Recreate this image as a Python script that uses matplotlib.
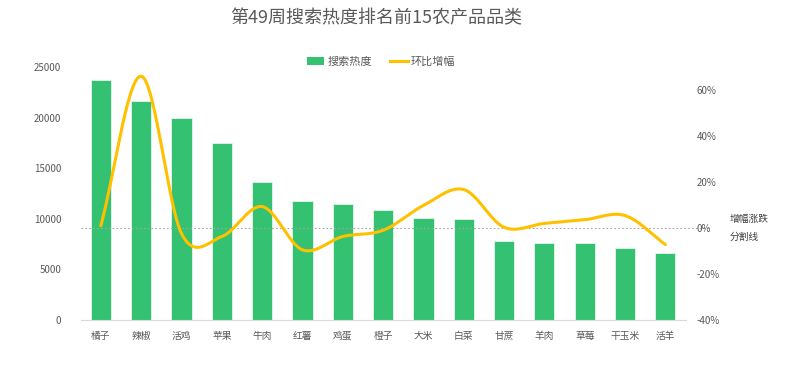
import numpy as np
import matplotlib
matplotlib.use('Agg')
import matplotlib.pyplot as plt
from matplotlib.patches import Patch
from matplotlib.lines import Line2D

plt.rcParams['font.family'] = ['Noto Sans CJK SC', 'DejaVu Sans']

categories = ['橘子', '辣椒', '活鸡', '苹果', '牛肉', '红薯', '鸡蛋', '橙子',
              '大米', '白菜', '甘蔗', '羊肉', '草莓', '干玉米', '活羊']
heat = [23700, 21600, 19950, 17450, 13600, 11800, 11450, 10880,
        10100, 9950, 7850, 7650, 7580, 7080, 6620]
growth = [1.0, 66.0, -2.4, -3.7, 9.3, -9.5, -3.7, -1.0,
          9.8, 16.7, 0.3, 2.0, 3.6, 5.4, -7.2]

GREEN = '#34C172'
GOLD = '#FFC000'
GREY = '#595959'


def catmull(xs, ys, n=30):
    # smooth curve through the points, like Excel's smoothed line
    xs = np.asarray(xs, float)
    ys = np.asarray(ys, float)
    px = np.concatenate([[2 * xs[0] - xs[1]], xs, [2 * xs[-1] - xs[-2]]])
    py = np.concatenate([[2 * ys[0] - ys[1]], ys, [2 * ys[-1] - ys[-2]]])
    ox, oy = [], []
    t = np.linspace(0, 1, n, endpoint=False)
    for i in range(1, len(px) - 2):
        for p, o in ((px, ox), (py, oy)):
            p0, p1, p2, p3 = p[i - 1], p[i], p[i + 1], p[i + 2]
            o.extend(0.5 * (2 * p1 + (-p0 + p2) * t + (2 * p0 - 5 * p1 + 4 * p2 - p3) * t ** 2
                            + (-p0 + 3 * p1 - 3 * p2 + p3) * t ** 3))
    ox.append(xs[-1])
    oy.append(ys[-1])
    return np.array(ox), np.array(oy)


fig = plt.figure(figsize=(7.99, 3.74), dpi=100)
ax = fig.add_axes([0.101, 0.1444, 0.757, 0.6765])
x = np.arange(len(categories))
ax.bar(x, heat, width=0.5, color=GREEN, edgecolor='#E6F5EC', linewidth=0.6, zorder=2)
ax.set_xlim(-0.5, len(categories) - 0.5)
ax.set_ylim(0, 25000)
ax.set_yticks(range(0, 25001, 5000))
ax.set_xticks(x)
ax.set_xticklabels(categories)
ax.tick_params(axis='y', length=0, pad=14, labelsize=7, labelcolor=GREY)
ax.tick_params(axis='x', length=0, pad=8, labelsize=7, labelcolor=GREY)
for s in ['top', 'right', 'left']:
    ax.spines[s].set_visible(False)
ax.spines['bottom'].set_color('#D9D9D9')

ax2 = ax.twinx()
ax2.set_ylim(-40, 70)
ax2.set_yticks(range(-40, 61, 20))
ax2.set_yticklabels(['%d%%' % v for v in range(-40, 61, 20)])
ax2.tick_params(axis='y', length=0, pad=8, labelsize=7, labelcolor=GREY)
for s in ax2.spines.values():
    s.set_visible(False)
sx, sy = catmull(x, growth)
ax2.plot(sx, sy, color=GOLD, lw=2.2, solid_capstyle='round', zorder=3)
ax2.plot([-0.5, 15.1], [0, 0], ls=(0, (1.5, 2)), color='#A6A6A6', lw=0.8,
         clip_on=False, zorder=1)
ax2.text(15.6, 0, '增幅涨跌\n分割线', fontsize=7, color='#404040',
         va='center', ha='left', linespacing=2.0)

fig.text(0.471, 0.952, '第49周搜索热度排名前15农产品品类', ha='center', va='center',
         fontsize=13, color=GREY)
handles = [Patch(facecolor=GREEN, edgecolor='none'), Line2D([0], [0], color=GOLD, lw=2.2)]
fig.legend(handles, ['搜索热度', '环比增幅'], loc='center', bbox_to_anchor=(0.477, 0.835),
           ncol=2, frameon=False, fontsize=8, labelcolor=GREY, handlelength=1.6,
           handleheight=0.8, columnspacing=1.6, handletextpad=0.3)

fig.savefig('out.png', dpi=100)
